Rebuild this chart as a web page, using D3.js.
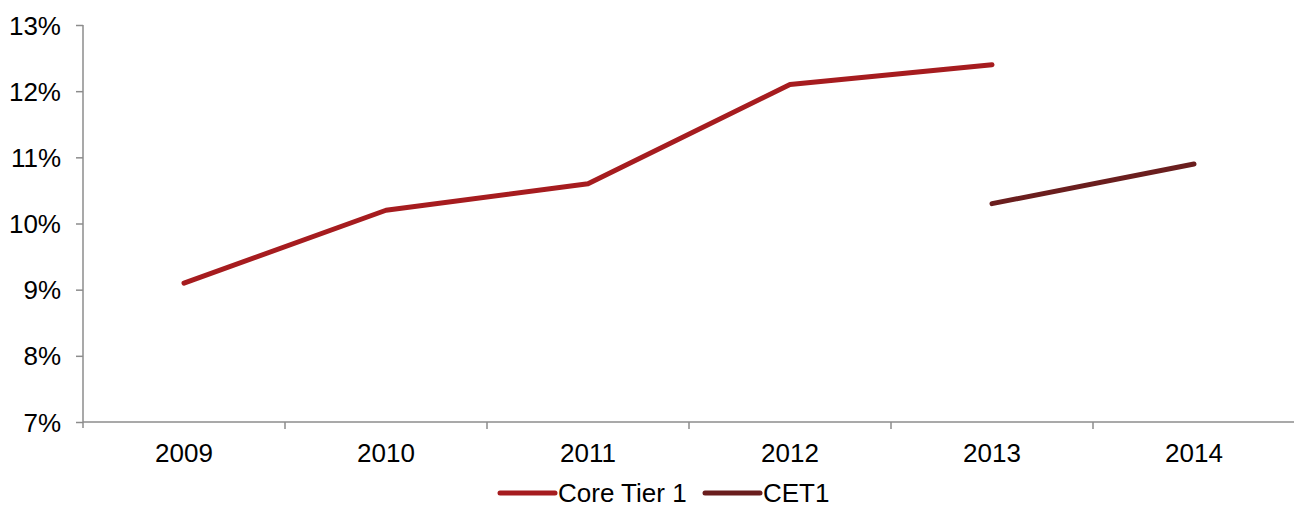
<!DOCTYPE html>
<html><head><meta charset="utf-8">
<script src="https://cdn.jsdelivr.net/npm/d3@7"></script>
<style>body{margin:0;background:#fff}svg{display:block;font-family:"Liberation Sans",Arial,sans-serif}</style>
</head><body><svg id="c" width="1294" height="507"></svg>
<script>
const years = ["2009","2010","2011","2012","2013","2014"];
const coreTier1 = [9.1, 10.2, 10.6, 12.1, 12.4, null];
const cet1 = [null, null, null, null, 10.3, 10.9];
const yTicks = [7, 8, 9, 10, 11, 12, 13];
const seriesNames = ["Core Tier 1", "CET1"];
const colors = ["#A61C1F", "#6A1E1E"];

const svg = d3.select("#c");
const mLeft = 83, mRight = 1295, mTop = 25, mBottom = 422;
const x = d3.scaleBand().domain(years).range([mLeft, mRight]);
const y = d3.scaleLinear().domain([7, 13]).range([mBottom, mTop]);
const axisColor = "#8c8c8c";
const fs = 26;

// y axis
const ya = svg.append("g").attr("transform", `translate(${mLeft},0)`)
  .call(d3.axisLeft(y).tickValues(yTicks).tickSize(7).tickPadding(15).tickFormat(d => d + "%"));
ya.select(".domain").attr("stroke", axisColor).attr("stroke-width", 1.5).attr("d", `M0,${mTop}V${mBottom+6}`);
ya.selectAll(".tick line").attr("stroke", axisColor).attr("stroke-width", 1.5);
ya.selectAll("text").attr("font-size", fs).attr("fill", "#000").attr("dy", "0.35em").attr("font-family", "Liberation Sans, Arial, sans-serif");

// x axis
const xa = svg.append("g").attr("transform", `translate(0,${mBottom})`)
  .call(d3.axisBottom(x).tickSize(0).tickPadding(22));
xa.select(".domain").attr("stroke", axisColor).attr("stroke-width", 1.5).attr("d", `M${mLeft},0H${mRight}`);
xa.selectAll("text").attr("font-size", fs).attr("fill", "#000").attr("font-family", "Liberation Sans, Arial, sans-serif");
xa.selectAll(".bt").data(years.slice(1)).enter().append("line")
  .attr("x1", d => x(d)).attr("x2", d => x(d)).attr("y1", 0).attr("y2", 7)
  .attr("stroke", axisColor).attr("stroke-width", 1.5);

// lines
const line = d3.line().defined(d => d.v != null)
  .x(d => x(d.k) + x.bandwidth() / 2).y(d => y(d.v));
[coreTier1, cet1].forEach((s, i) => {
  svg.append("path").datum(years.map((k, j) => ({k, v: s[j]})))
    .attr("d", line).attr("fill", "none").attr("stroke", colors[i])
    .attr("stroke-width", 5).attr("stroke-linecap", "round").attr("stroke-linejoin", "round");
});

// legend
const lg = svg.append("g");
const lx = [500, 705];
seriesNames.forEach((n, i) => {
  lg.append("line").attr("x1", lx[i]).attr("x2", lx[i] + 55).attr("y1", 493).attr("y2", 493)
    .attr("stroke", colors[i]).attr("stroke-width", 5).attr("stroke-linecap", "round");
  lg.append("text").attr("x", lx[i] + 58).attr("y", 493).attr("dy", "0.35em")
    .attr("font-size", fs).attr("fill", "#000").text(n);
});
</script></body></html>
